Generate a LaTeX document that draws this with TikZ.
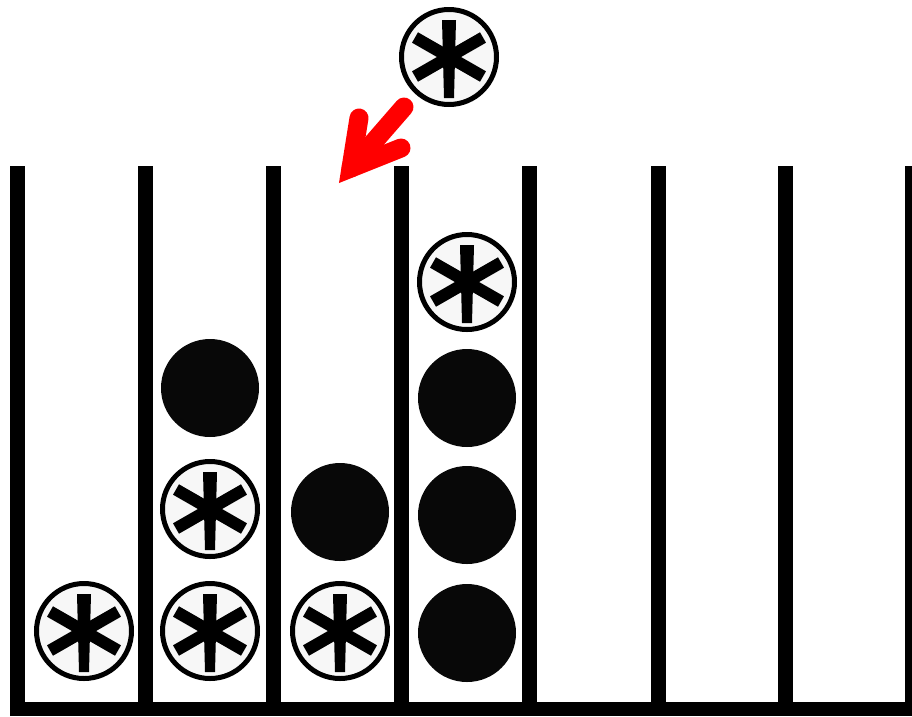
\documentclass[tikz,border=0pt]{standalone}
\usetikzlibrary{calc}
\begin{document}
\begin{tikzpicture}[x=1pt,y=-1pt,
  wall/.style={fill=black},
  ball/.style={circle, fill=black!97, minimum size=98pt, inner sep=0pt},
  startok/.style={circle, draw=black, line width=5pt, fill=black!3,
    minimum size=95pt, inner sep=0pt,
    path picture={
      \begin{scope}[shift={(path picture bounding box.center)}]
        \fill[black] (-7,-37) -- (7,-37) -- (5,41) -- (-5,41) -- cycle;
        \draw[black, line width=12pt] (-34,-19.5) -- (34,19.5);
        \draw[black, line width=12pt] (-34,19.5) -- (34,-19.5);
      \end{scope}
    }},
  redarrow/.style={draw=red, line width=19pt, line cap=round, line join=miter}]
\useasboundingbox (0,0) rectangle (912,716);
% walls
\foreach \xl in {9.5,138,265.5,394,522,650.5,778,905}
  \fill[wall] (\xl,166) rectangle +(15,550);
\fill[wall] (9.5,702) rectangle (912,716);
% tokens
\node[startok] (top) at (449,57) {};
\node[startok] (a1) at (84,631) {};
\node[startok] (b1) at (210,631) {};
\node[startok] (b2) at (210,509) {};
\node[ball] (b3) at (210,388) {};
\node[startok] (c1) at (340,631) {};
\node[ball] (c2) at (340,512) {};
\node[ball] (d1) at (467,633) {};
\node[ball] (d2) at (467,515) {};
\node[ball] (d3) at (467,398) {};
\node[startok] (d4) at (467,282) {};
% arrow
\coordinate (j) at (351,168);
\coordinate (arm1) at (359,118);
\coordinate (arm2) at (401,148);
\coordinate (tail) at (404,107);
\draw[redarrow] (arm1) -- (j) -- (arm2);
\draw[redarrow] (tail) -- (j);
\end{tikzpicture}
\end{document}
